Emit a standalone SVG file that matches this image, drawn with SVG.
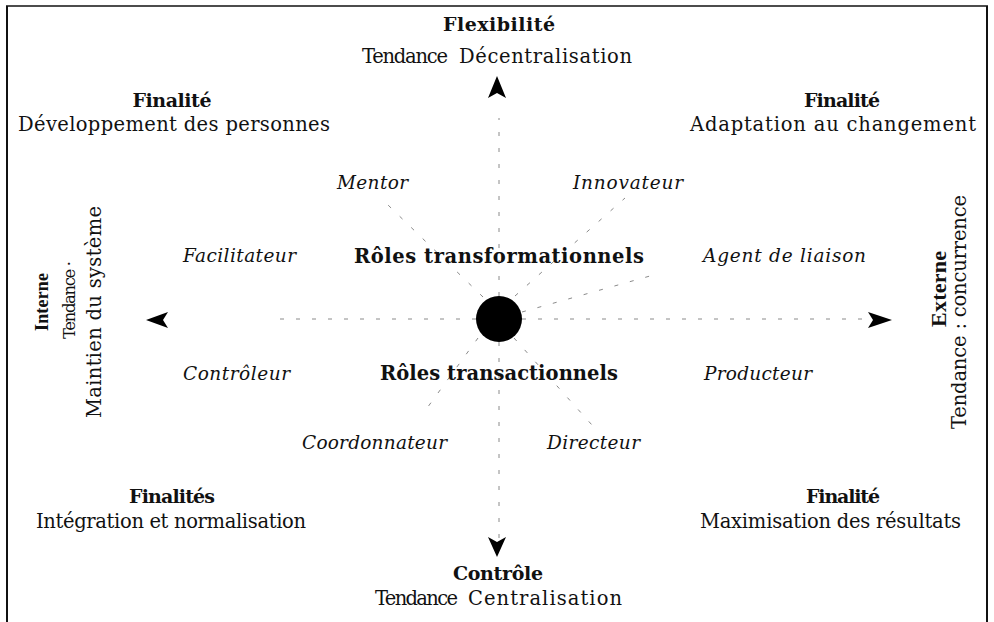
<svg xmlns="http://www.w3.org/2000/svg" width="994" height="622" viewBox="0 0 994 622">
  <style>
    text { font-family: "DejaVu Serif", "Liberation Serif", serif; fill: #111; }
    .hd { font-weight: bold; font-size: 19px; }
    .tx { font-size: 19.5px; }
    .small { font-size: 16.5px; }
    .side { font-family: "Liberation Serif", "DejaVu Serif", serif; font-weight: bold; }
    .role { font-style: italic; font-size: 18.5px; }
    .core { font-weight: bold; font-size: 19.5px; }
    .ray { stroke: #8a8a8a; stroke-width: 1; fill: none; stroke-dasharray: 4 12; }
    .frame { stroke: #111; fill: none; }
    .head { fill: #000; }
  </style>

  <!-- open frame: top edge and two sides -->
  <g id="frame">
    <line class="frame" x1="6" y1="6" x2="988" y2="6" stroke-width="1.5"/>
    <line class="frame" x1="7" y1="6" x2="7" y2="622" stroke-width="2"/>
    <line class="frame" x1="987" y1="6" x2="987" y2="622" stroke-width="2"/>
  </g>

  <!-- axes and radiating role rays -->
  <g id="connectors">
    <line class="ray" x1="499" y1="296" x2="499" y2="118"/>
    <line class="ray" x1="499" y1="342" x2="499" y2="538"/>
    <line class="ray" x1="476" y1="319" x2="280" y2="319"/>
    <line class="ray" x1="522" y1="319" x2="870" y2="319"/>
    <line class="ray" x1="483" y1="297" x2="388" y2="205"/>
    <line class="ray" x1="515" y1="296" x2="625" y2="198"/>
    <line class="ray" x1="522" y1="312" x2="650" y2="276"/>
    <line class="ray" x1="478" y1="338" x2="422" y2="415"/>
    <line class="ray" x1="514" y1="338" x2="592" y2="425"/>
    <!-- axis arrowheads -->
    <path class="head" d="M497,76 L506,98 L497,93 L488,98 Z"/>
    <path class="head" d="M497,557 L506,537 L497,542 L488,537 Z"/>
    <path class="head" d="M146,320 L168,312 L163,320 L168,328 Z"/>
    <path class="head" d="M892,320 L868,312 L873,320 L868,328 Z"/>
  </g>

  <g id="centre">
    <circle cx="499" cy="319" r="23" fill="#000"/>
  </g>

  <g id="flexibilite">
    <text class="hd" x="499" y="31" text-anchor="middle" textLength="112">Flexibilité</text>
    <text class="tx" x="362" y="63" textLength="86">Tendance</text>
    <text class="tx" x="459" y="63" textLength="173">Décentralisation</text>
  </g>

  <g id="controle">
    <text class="hd" x="498" y="580" text-anchor="middle" textLength="90">Contrôle</text>
    <text class="tx" x="375" y="605" textLength="83">Tendance</text>
    <text class="tx" x="468" y="605" textLength="154">Centralisation</text>
  </g>

  <g id="interne">
    <text class="side" transform="translate(48,302) rotate(-90)" text-anchor="middle" textLength="58" style="font-size:18px">Interne</text>
    <text class="small" transform="translate(75,300) rotate(-90)" text-anchor="middle" textLength="78">Tendance ·</text>
    <text class="tx" transform="translate(101,312) rotate(-90)" text-anchor="middle" textLength="212">Maintien du système</text>
  </g>

  <g id="externe">
    <text class="side" transform="translate(946,289) rotate(-90)" text-anchor="middle" textLength="76" style="font-size:22px">Externe</text>
    <text class="tx" transform="translate(966,312) rotate(-90)" text-anchor="middle" textLength="234">Tendance : concurrence</text>
  </g>

  <g id="finalite-personnes">
    <text class="hd" x="172" y="107" text-anchor="middle" textLength="79">Finalité</text>
    <text class="tx" x="18" y="131" textLength="312">Développement des personnes</text>
  </g>

  <g id="finalite-changement">
    <text class="hd" x="842" y="107" text-anchor="middle" textLength="76">Finalité</text>
    <text class="tx" x="690" y="131" textLength="286">Adaptation au changement</text>
  </g>

  <g id="finalites-integration">
    <text class="hd" x="172" y="503" text-anchor="middle" textLength="86">Finalités</text>
    <text class="tx" x="36" y="528" textLength="270">Intégration et normalisation</text>
  </g>

  <g id="finalite-resultats">
    <text class="hd" x="843" y="503" text-anchor="middle" textLength="74">Finalité</text>
    <text class="tx" x="700" y="528" textLength="261">Maximisation des résultats</text>
  </g>

  <g id="roles-transformationnels">
    <text class="core" x="354" y="263" textLength="290">Rôles transformationnels</text>
  </g>

  <g id="roles-transactionnels">
    <text class="core" x="380" y="380" textLength="238">Rôles transactionnels</text>
  </g>

  <g id="mentor"><text class="role" x="337" y="189" textLength="71">Mentor</text></g>
  <g id="innovateur"><text class="role" x="573" y="189" textLength="110">Innovateur</text></g>
  <g id="facilitateur"><text class="role" x="183" y="262" textLength="113">Facilitateur</text></g>
  <g id="agent-de-liaison"><text class="role" x="703" y="262" textLength="163">Agent de liaison</text></g>
  <g id="controleur"><text class="role" x="183" y="380" textLength="107">Contrôleur</text></g>
  <g id="producteur"><text class="role" x="704" y="380" textLength="108">Producteur</text></g>
  <g id="coordonnateur"><text class="role" x="302" y="449" textLength="145">Coordonnateur</text></g>
  <g id="directeur"><text class="role" x="547" y="449" textLength="93">Directeur</text></g>
</svg>
